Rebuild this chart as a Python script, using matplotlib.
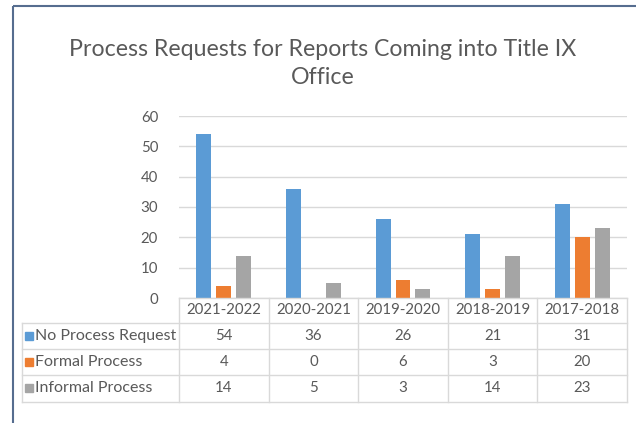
import numpy as np
import matplotlib.pyplot as plt
from matplotlib.patches import Rectangle

plt.rcParams['font.family'] = ['Lato', 'DejaVu Sans']

years = ['2021-2022', '2020-2021', '2019-2020', '2018-2019', '2017-2018']
series = ['No Process Request', 'Formal Process', 'Informal Process']
no_process = [54, 36, 26, 21, 31]
formal = [4, 0, 6, 3, 20]
informal = [14, 5, 3, 14, 23]
values = [no_process, formal, informal]
colors = ['#5b9bd5', '#ed7d31', '#a5a5a5']
yticks = [0, 10, 20, 30, 40, 50, 60]

W, H = 636, 423
txt = '#595959'
grid = '#d9d9d9'

fig = plt.figure(figsize=(W / 100, H / 100), dpi=100)

# plot area in pixels
left, right, top, bottom = 179, 627, 116, 298
ax = fig.add_axes([left / W, 1 - bottom / H, (right - left) / W, (bottom - top) / H])
x = np.arange(len(years))
step, bw = 0.223, 0.167
for j, (vals, c) in enumerate(zip(values, colors)):
    ax.bar(x + (j - 1) * step, vals, width=bw, color=c, zorder=3)
ax.set_xlim(-0.5, len(years) - 0.5)
ax.set_ylim(0, 60)
ax.set_yticks(yticks)
ax.set_xticks([])
for s in ax.spines.values():
    s.set_visible(False)
ax.yaxis.grid(True, color=grid, lw=1, zorder=0)
ax.tick_params(axis='y', length=0, pad=15, labelsize=10.8, labelcolor=txt)

# overlay in pixel coordinates for table, title and frame
ov = fig.add_axes([0, 0, 1, 1], zorder=5)
ov.set_xlim(0, W)
ov.set_ylim(H, 0)
ov.axis('off')
ov.patch.set_alpha(0)

ov.plot([13, W], [6.5, 6.5], color='#566d8f', lw=1.5, solid_capstyle='butt')
ov.plot([13, 13], [6.5, H], color='#566d8f', lw=1.5, solid_capstyle='butt')

ov.text(323, 50, 'Process Requests for Reports Coming into Title IX', ha='center',
        va='center', fontsize=16.7, color=txt)
ov.text(323, 77, 'Office', ha='center', va='center', fontsize=16.7, color=txt)

rows = [298, 323, 349, 375, 402]
lab_left = 22
cw = (right - left) / len(years)
lc = '#d9d9d9'
# horizontal lines
ov.plot([left, right], [rows[0], rows[0]], color=lc, lw=1)
for r in rows[1:]:
    ov.plot([lab_left, right], [r, r], color=lc, lw=1)
# vertical lines
ov.plot([lab_left, lab_left], [rows[1], rows[-1]], color=lc, lw=1)
for i in range(len(years) + 1):
    ov.plot([left + i * cw] * 2, [rows[0], rows[-1]], color=lc, lw=1)

for i, yr in enumerate(years):
    ov.text(left + (i + 0.5) * cw, (rows[0] + rows[1]) / 2, yr, ha='center', va='center',
            fontsize=10.8, color=txt)
for k, (name, vals, c) in enumerate(zip(series, values, colors)):
    yc = (rows[k + 1] + rows[k + 2]) / 2
    ov.add_patch(Rectangle((25, yc - 4), 8, 8, color=c))
    ov.text(35, yc, name, ha='left', va='center', fontsize=11.5, color=txt)
    for i, v in enumerate(vals):
        ov.text(left + (i + 0.5) * cw, yc, str(v), ha='center', va='center',
                fontsize=10.8, color=txt)

fig.savefig('out.png', dpi=100)
